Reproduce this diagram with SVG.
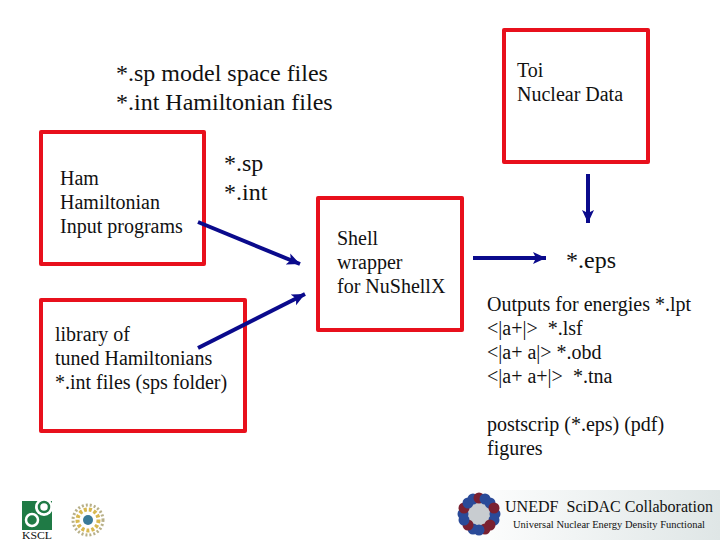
<svg xmlns="http://www.w3.org/2000/svg" width="720" height="540" viewBox="0 0 720 540">
<style>
.box{fill:#fff;stroke:#e8101c;stroke-width:4;stroke-linejoin:round}
text{font-family:"Liberation Serif",serif;fill:#111;white-space:pre}
.s{font-size:20px}
.l{font-size:24px}
.c{fill:none;stroke:#0a0a8c;stroke-width:4}
.n{fill:#2a4a98}
.m{fill:#7a2030}
</style>
<defs>
<marker id="a" markerUnits="userSpaceOnUse" markerWidth="16" markerHeight="14" refX="13" refY="7" orient="auto"><path d="M0 1L13 7L0 13L3 7Z" fill="#0a0a8c"/></marker>
<linearGradient id="g" x1="0" x2="1"><stop offset="0" stop-color="#fff"/><stop offset="1" stop-color="#dfe6e6"/></linearGradient>
</defs>
<rect width="720" height="540" fill="#fff"/>
<g id="title"><text class="l" x="116" y="81">*.sp model space files</text><text class="l" x="116" y="110">*.int Hamiltonian files</text></g>
<g id="ham"><rect class="box" x="41" y="132" width="163" height="132"/><text class="s" x="60" y="185">Ham</text><text class="s" x="60" y="209">Hamiltonian</text><text class="s" x="60" y="233">Input programs</text></g>
<g id="spint"><text class="l" x="224" y="171">*.sp</text><text class="l" x="224" y="200">*.int</text></g>
<g id="library"><rect class="box" x="41" y="300" width="204" height="131"/><text class="s" x="55" y="341">library of</text><text class="s" x="55" y="365">tuned Hamiltonians</text><text class="s" x="55" y="389">*.int files (sps folder)</text></g>
<g id="shell"><rect class="box" x="318" y="198" width="144" height="132"/><text class="s" x="337" y="245">Shell</text><text class="s" x="337" y="269">wrapper</text><text class="s" x="337" y="293">for NuShellX</text></g>
<g id="toi"><rect class="box" x="504" y="30" width="144" height="132"/><text class="s" x="517" y="77">Toi</text><text class="s" x="517" y="101">Nuclear Data</text></g>
<g id="connectors">
<path class="c" d="M198 222L300 264" marker-end="url(#a)"/>
<path class="c" d="M198 348L305 294" marker-end="url(#a)"/>
<path class="c" d="M473 258L546 258" marker-end="url(#a)"/>
<path class="c" d="M588 174L588 223" marker-end="url(#a)"/>
</g>
<g id="outputs"><text class="l" x="566" y="268">*.eps</text>
<text class="s" x="487" y="311">Outputs for energies *.lpt</text><text class="s" x="487" y="335">&lt;|a+|&gt;  *.lsf</text><text class="s" x="487" y="359">&lt;|a+ a|&gt; *.obd</text><text class="s" x="487" y="383">&lt;|a+ a+|&gt;  *.tna</text><text class="s" x="487" y="431">postscrip (*.eps) (pdf)</text><text class="s" x="487" y="455">figures</text></g>
<g id="logos">
<rect x="22" y="501" width="30" height="29" fill="#1f7a45"/>
<circle cx="44" cy="507" r="9" fill="#fff"/><circle cx="44" cy="507" r="5" fill="none" stroke="#1f7a45" stroke-width="2.500"/>
<circle cx="32" cy="520" r="6" fill="none" stroke="#fff" stroke-width="2.500"/>
<text x="22" y="539" font-size="10" fill="#1f6a40" textLength="30" lengthAdjust="spacingAndGlyphs">KSCL</text>
<circle cx="88" cy="520" r="17" fill="#fff"/><circle cx="88" cy="520" r="15" fill="none" stroke="#b8b088" stroke-width="3" stroke-dasharray="2 2"/><circle cx="88" cy="520" r="10.500" fill="none" stroke="#d8b850" stroke-width="4" stroke-dasharray="3 2"/><circle cx="88" cy="520" r="5" fill="#3a7a98"/>
<rect x="460" y="490" width="260" height="50" fill="url(#g)"/>
<circle cx="479" cy="514" r="12" fill="#c8ccd0"/>
<circle class="n" cx="495" cy="514" r="5.500"/><circle class="n" cx="494" cy="520" r="5.500"/><circle class="m" cx="490" cy="525" r="5.500"/><circle class="m" cx="485" cy="529" r="5.500"/><circle class="n" cx="479" cy="530" r="5.500"/><circle class="n" cx="473" cy="529" r="5.500"/><circle class="m" cx="468" cy="525" r="5.500"/><circle class="n" cx="464" cy="520" r="5.500"/><circle class="n" cx="463" cy="514" r="5.500"/><circle class="m" cx="464" cy="508" r="5.500"/><circle class="n" cx="468" cy="503" r="5.500"/><circle class="n" cx="473" cy="499" r="5.500"/><circle class="m" cx="479" cy="498" r="5.500"/><circle class="n" cx="485" cy="499" r="5.500"/><circle class="n" cx="490" cy="503" r="5.500"/><circle class="m" cx="494" cy="508" r="5.500"/>
<text x="505" y="512" font-size="16.500" fill="#222" textLength="208" lengthAdjust="spacingAndGlyphs">UNEDF  SciDAC Collaboration</text>
<text x="513" y="528" font-size="10.500" fill="#333" textLength="192" lengthAdjust="spacingAndGlyphs">Universal Nuclear Energy Density Functional</text>
</g>
</svg>
